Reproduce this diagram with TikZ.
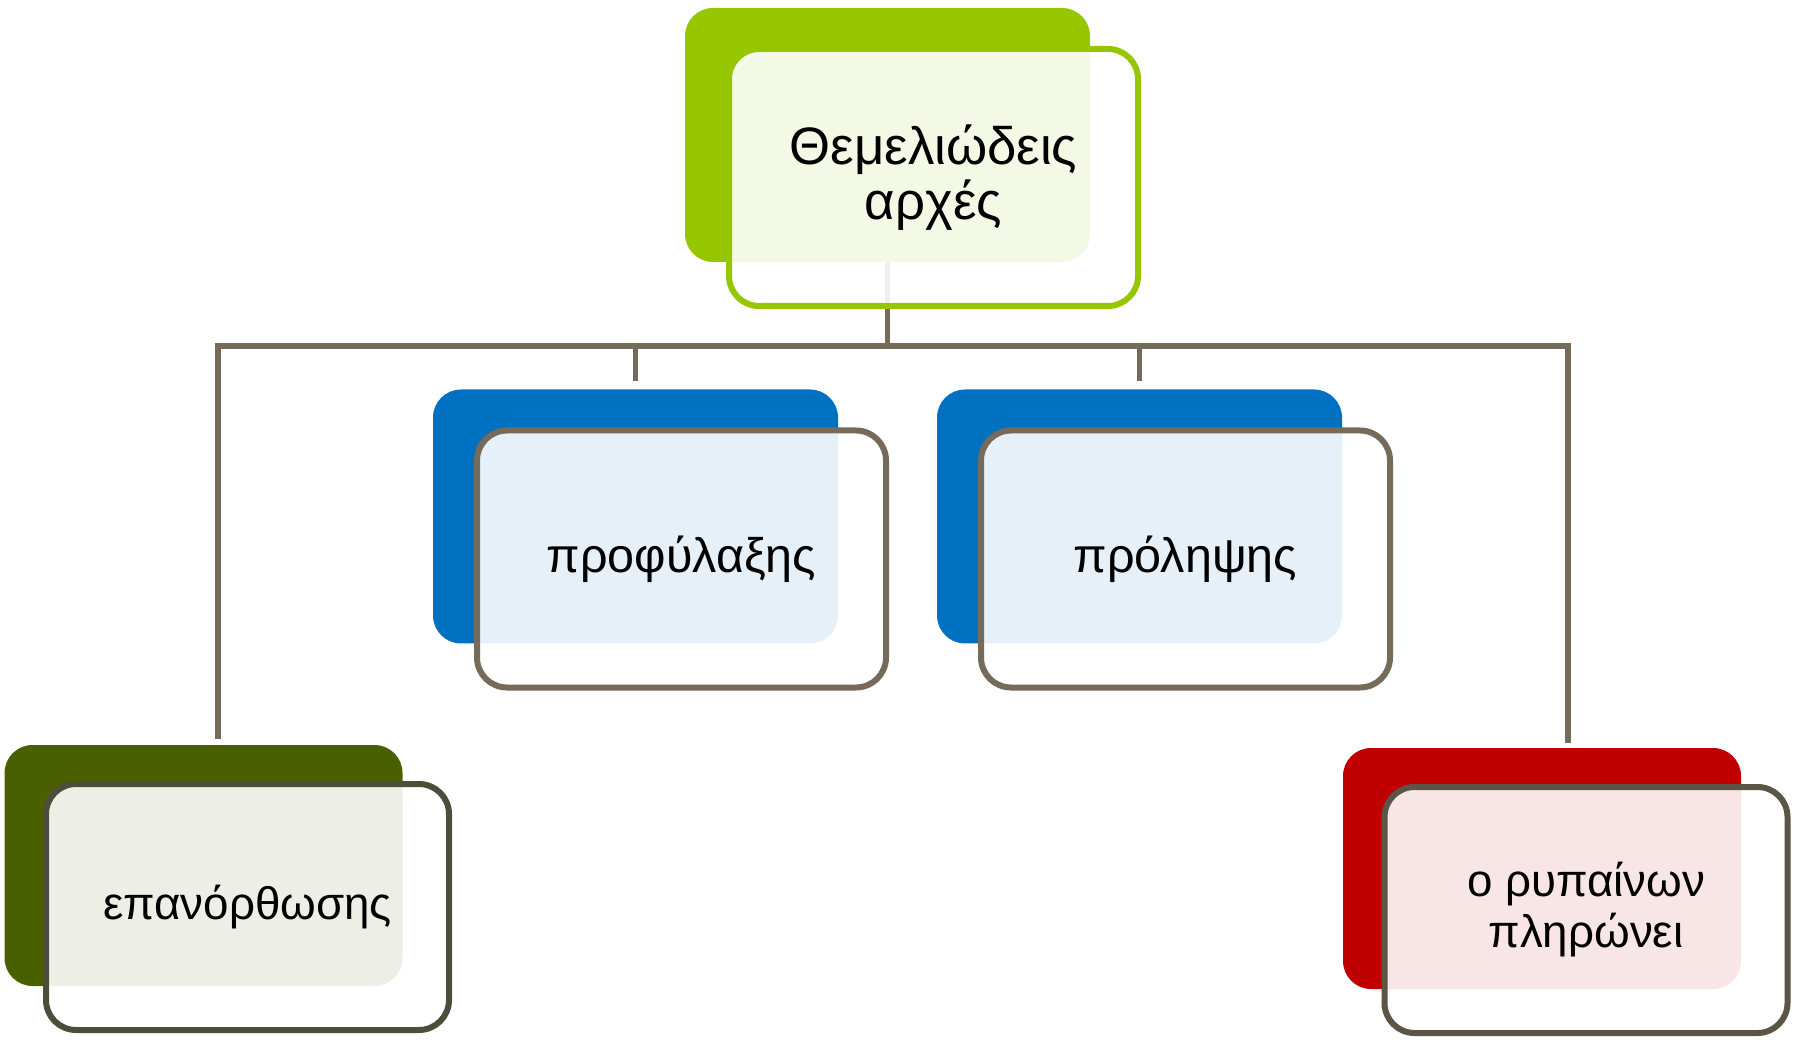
\documentclass[tikz,border=0pt]{standalone}
\usepackage{fontspec}
\setmainfont{Liberation Sans}
\definecolor{limeback}{RGB}{150,198,0}
\definecolor{blueback}{RGB}{0,112,192}
\definecolor{oliveback}{RGB}{74,96,0}
\definecolor{redback}{RGB}{192,0,0}
\definecolor{connbrown}{RGB}{118,106,91}
\definecolor{oliveline}{RGB}{78,77,58}
\definecolor{redline}{RGB}{92,84,71}
\begin{document}
\begin{tikzpicture}[
  backbox/.style={rectangle, rounded corners=0.56cm, inner sep=0pt,
    minimum width=8.1cm, minimum height=5.08cm},
  lowback/.style={backbox, minimum width=7.96cm, minimum height=4.82cm},
  frontbox/.style={rectangle, rounded corners=0.6cm, line width=0.12cm,
    fill=white, fill opacity=0.9, text opacity=1, align=center,
    font=\fontsize{30}{31}\selectfont,
    minimum width=8.18cm, minimum height=5.14cm},
  midfront/.style={frontbox, font=\fontsize{27.6}{29}\selectfont},
  lowfront/.style={frontbox, font=\fontsize{26}{29}\selectfont,
    minimum width=8.06cm, minimum height=4.92cm},
  conn/.style={draw=connbrown, line width=0.11cm}
]
\useasboundingbox (0,0) rectangle (35.92,20.78);

% Drawing back boxes
\node[backbox, fill=limeback] (thm) at (17.75,18.08) {};
\node[backbox, fill=blueback] (prof) at (12.71,10.45) {};
\node[backbox, fill=blueback] (prol) at (22.79,10.45) {};
\node[lowback, fill=oliveback] (epan) at (4.07,3.47) {};
\node[lowback, fill=redback] (rup) at (30.84,3.41) {};

% Drawing connectors
\coordinate (busl) at (4.36,13.86);
\coordinate (busr) at (31.36,13.86);
\draw[conn] (thm.south) -- (thm.south |- busl);
\draw[conn, shorten <=0.12cm, shorten >=0.1cm]
  (busl |- epan.north) -- (busl) -- (busr) -- (busr |- rup.north);
\draw[conn, shorten >=0.16cm] (prof.north |- busl) -- (prof.north);
\draw[conn, shorten >=0.16cm] (prol.north |- busl) -- (prol.north);

% Drawing front boxes with text
\node[frontbox, draw=limeback] (thmt) at ([shift={(0.92,-0.85)}]thm.center) {Θεμελιώδεις\\αρχές};
\node[midfront, draw=connbrown] (proft) at ([shift={(0.92,-0.85)}]prof.center) {προφύλαξης};
\node[midfront, draw=connbrown] (prolt) at ([shift={(0.92,-0.85)}]prol.center) {πρόληψης};
\node[lowfront, draw=oliveline] (epant) at ([shift={(0.88,-0.83)}]epan.center) {επανόρθωσης};
\node[lowfront, draw=redline] (rupt) at ([shift={(0.88,-0.83)}]rup.center) {ο ρυπαίνων\\πληρώνει};
\end{tikzpicture}
\end{document}
